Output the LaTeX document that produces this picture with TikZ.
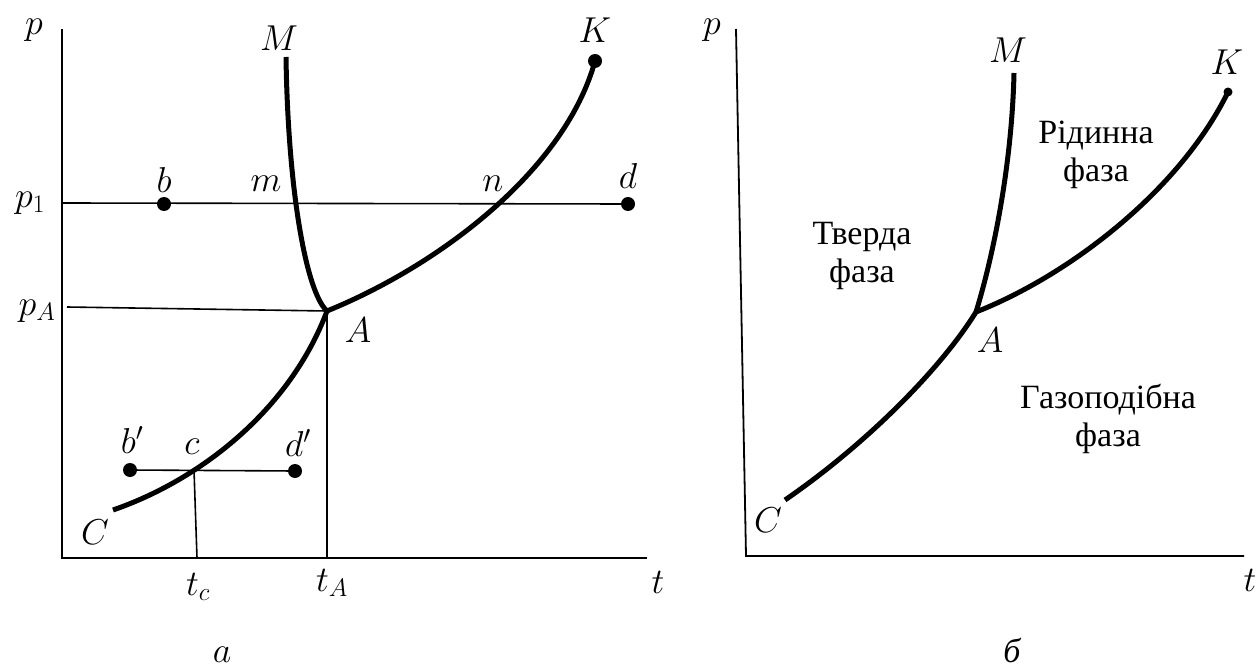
\RequirePackage{fix-cm}
\documentclass[tikz,border=0pt]{standalone}
\usepackage{fontspec}
\setmainfont{Liberation Serif}
\newfontfamily\phasefont{Liberation Serif}
\begin{document}
\begin{tikzpicture}[x=1pt,y=-1pt,
  axisline/.style={line width=1.8pt},
  thinline/.style={line width=1.6pt},
  phase/.style={line width=5pt},
  dotmark/.style={fill=black},
  lbl/.style={font=\fontsize{36}{40}\selectfont,inner sep=0pt},
  region/.style={font=\phasefont\fontsize{34}{38}\selectfont,inner sep=0pt,align=center}]
\useasboundingbox (0,0) rectangle (1257,668);
% ---------- panel a ----------
\coordinate (aO) at (62,558);
\coordinate (aPtop) at (62,29);
\coordinate (aTend) at (647,558);
\draw[axisline] (aPtop) -- (aO) -- (aTend);
\coordinate (aP1) at (62,203);
\coordinate (aB) at (164,204);
\coordinate (aD) at (628,204);
\coordinate (aPA) at (67,307);
\coordinate (aA) at (327,311);
\coordinate (aTA) at (327,558);
\coordinate (aBp) at (130,470);
\coordinate (aDp) at (295,471);
\coordinate (aC) at (194,470);
\coordinate (aTC) at (197,558);
\coordinate (aK) at (595,61);
\coordinate (aM) at (286,57);
\coordinate (aCend) at (113,510);
\draw[thinline] (aP1) -- (aD);
\draw[thinline] (aPA) -- (aA);
\draw[thinline] (aA) -- (aTA);
\draw[thinline] (aBp) -- (aDp);
\draw[thinline] (aC) -- (aTC);
\draw[phase] (aM) .. controls (288,190) and (306,292) .. (aA);
\draw[phase] (aA) .. controls (440,265) and (565,170) .. (aK);
\draw[phase] (aA) .. controls (290,410) and (200,480) .. (aCend);
\fill[dotmark] (aB) circle (7);
\fill[dotmark] (aD) circle (7);
\fill[dotmark] (aBp) circle (7);
\fill[dotmark] (aDp) circle (7);
\fill[dotmark] (aK) circle (7);
\node[lbl] (lap) at (34,30) {$p$};
\node[lbl] (lap1) at (30,203) {$p_1$};
\node[lbl] (lapA) at (37,311) {$p_A$};
\node[lbl] (laM) at (279,38) {$M$};
\node[lbl] (lab) at (164,180) {$b$};
\node[lbl] (lam) at (266,184) {$m$};
\node[lbl] (lan) at (493,184) {$n$};
\node[lbl] (lad) at (628,176) {$d$};
\node[lbl] (laK) at (595,30) {$K$};
\node[lbl] (laA) at (358,330) {$A$};
\node[lbl] (labp) at (132,440) {$b'$};
\node[lbl] (lac) at (192,447) {$c$};
\node[lbl] (ladp) at (298,443) {$d'$};
\node[lbl] (laC) at (95,532) {$C$};
\node[lbl] (latc) at (198,587) {$t_c$};
\node[lbl] (lata) at (332,583) {$t_A$};
\node[lbl] (lat) at (658,582) {$t$};
\node[lbl] (laa) at (222,655) {$a$};
% ---------- panel b ----------
\coordinate (bO) at (746,556);
\coordinate (bPtop) at (736,29);
\coordinate (bTend) at (1244,556);
\draw[axisline] (bPtop) -- (bO) -- (bTend);
\coordinate (bA) at (976,312);
\coordinate (bK) at (1228,92);
\coordinate (bM) at (1014,73);
\coordinate (bCend) at (785,500);
\draw[phase] (bM) .. controls (1012,160) and (995,250) .. (bA);
\draw[phase] (bA) .. controls (1070,275) and (1180,190) .. (bK);
\draw[phase] (bA) .. controls (940,370) and (865,445) .. (bCend);
\fill[dotmark] (bK) circle (4.5);
\node[lbl] (lbp) at (712,30) {$p$};
\node[lbl] (lbM) at (1008,50) {$M$};
\node[lbl] (lbK) at (1227,62) {$K$};
\node[lbl] (lbA) at (990,340) {$A$};
\node[lbl] (lbC) at (768,520) {$C$};
\node[lbl] (lbt) at (1250,580) {$t$};
\node[region] (solid) at (862,256) {Тверда\\фаза};
\node[region] (liquid) at (1096,155) {Рідинна\\фаза};
\node[region] (gas) at (1108,419) {Газоподібна\\фаза};
\node[region,font=\phasefont\fontsize{34}{38}\selectfont\itshape] (lbb) at (1012,650) {б};
\end{tikzpicture}
\end{document}
